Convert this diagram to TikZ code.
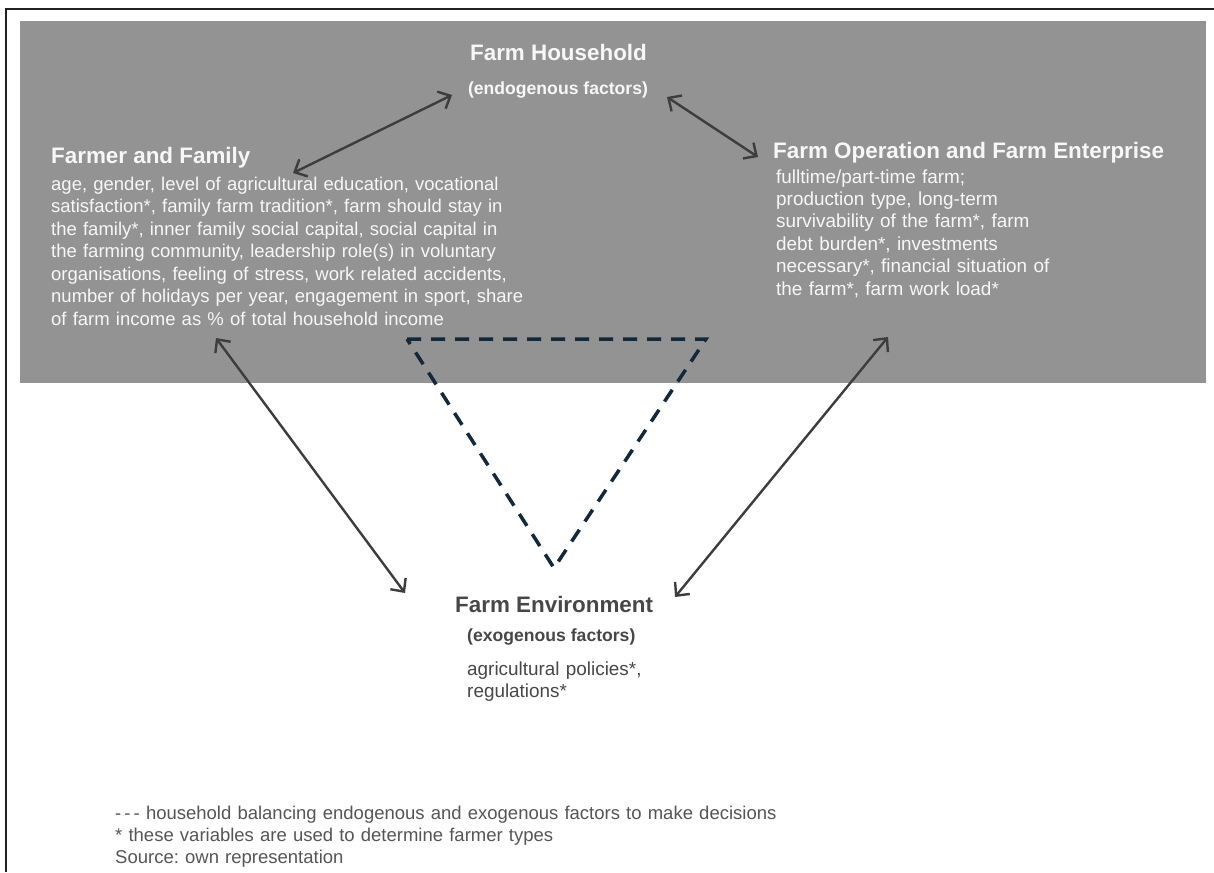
\documentclass[tikz,border=0pt]{standalone}
\usepackage{fontspec}
\setmainfont{Liberation Sans}
\usetikzlibrary{arrows.meta}
\definecolor{boxgray}{HTML}{939393}
\definecolor{lighttxt}{HTML}{F7F7F7}
\definecolor{arrowgray}{HTML}{3D3D3D}
\definecolor{navy}{HTML}{13283A}
\definecolor{envtxt}{HTML}{474747}
\definecolor{foottxt}{HTML}{555555}
\definecolor{framecol}{HTML}{222222}
\frenchspacing
\tikzset{
  title/.style={font=\fontsize{22.4}{26}\selectfont\bfseries, inner sep=0pt},
  subtitle/.style={font=\fontsize{17.6}{21}\selectfont\bfseries, inner sep=0pt},
  bodytxt/.style={inner sep=0pt, align=left, text width=#1},
  link/.style={arrowgray, line width=2.4pt, {Straight Barb[length=10pt,width=19pt]}-{Straight Barb[length=10pt,width=19pt]}},
  balance/.style={navy, line width=3.5pt, dash pattern=on 14pt off 10pt}
}
\begin{document}
\begin{tikzpicture}[x=1pt,y=-1pt]
\useasboundingbox (0,0) rectangle (1214,872);
% frame
\draw[framecol, line width=1.5pt] (6,872) -- (6,9) -- (1214,9);
% gray endogenous area
\fill[boxgray] (20,21) rectangle (1206,383);

% Farm Household
\node[title, lighttxt, anchor=base] (hh) at (558.5,61) {Farm Household};
\node[subtitle, lighttxt, anchor=base] (hhsub) at (558,95) {(endogenous factors)};

% Farmer and Family
\node[title, lighttxt, anchor=base west] (ffT) at (51,163) {Farmer and Family};
\node[bodytxt=520pt, lighttxt, anchor=base west, font=\fontsize{18.5}{22.5}\selectfont] (ffB) at (51,190)
 {age, gender, level of agricultural education, vocational\\
  satisfaction*, family farm tradition*, farm should stay in\\
  the family*, inner family social capital, social capital in\\
  the farming community, leadership role(s) in voluntary\\
  organisations, feeling of stress, work related accidents,\\
  number of holidays per year, engagement in sport, share\\
  of farm income as \% of total household income};

% Farm Operation and Farm Enterprise
\node[title, lighttxt, anchor=base west] (foT) at (773,158) {Farm Operation and Farm Enterprise};
\node[bodytxt=400pt, lighttxt, anchor=base west, font=\fontsize{18.9}{22.4}\selectfont] (foB) at (776,183)
 {fulltime/part-time farm;\\
  production type, long-term\\
  survivability of the farm*, farm\\
  debt burden*, investments\\
  necessary*, financial situation of\\
  the farm*, farm work load*};

% Farm Environment
\node[title, envtxt, anchor=base west] (envT) at (455,612) {Farm Environment};
\node[subtitle, envtxt, anchor=base west] (envsub) at (467,641) {(exogenous factors)};
\node[bodytxt=250pt, envtxt, anchor=base west, font=\fontsize{18.9}{22.4}\selectfont] (envB) at (467,675)
 {agricultural policies*,\\
  regulations*};

% footnotes
\node[bodytxt=800pt, foottxt, anchor=base west, font=\fontsize{18.5}{22}\selectfont] (foot) at (115,819)
 {-\,-\,- household balancing endogenous and exogenous factors to make decisions\\
  {}* these variables are used to determine farmer types\\
  Source: own representation};

% connector end points next to the nodes
\coordinate (ffA) at (293,173);
\coordinate (hhA) at (452,95);
\coordinate (hhB) at (667,97);
\coordinate (foA) at (758,157);
\coordinate (ffC) at (216,338);
\coordinate (envA) at (405,593);
\coordinate (foC) at (888,337);
\coordinate (envC) at (675,597);

\draw[link] (ffA) -- (hhA);
\draw[link] (hhB) -- (foA);
\draw[link] (ffC) -- (envA);
\draw[link] (foC) -- (envC);

% balancing triangle
\coordinate (t1) at (407,339);
\coordinate (t2) at (706,339);
\coordinate (t3) at (554,568);
\draw[balance] (t1) -- (t2) -- (t3) -- cycle;
\end{tikzpicture}
\end{document}
